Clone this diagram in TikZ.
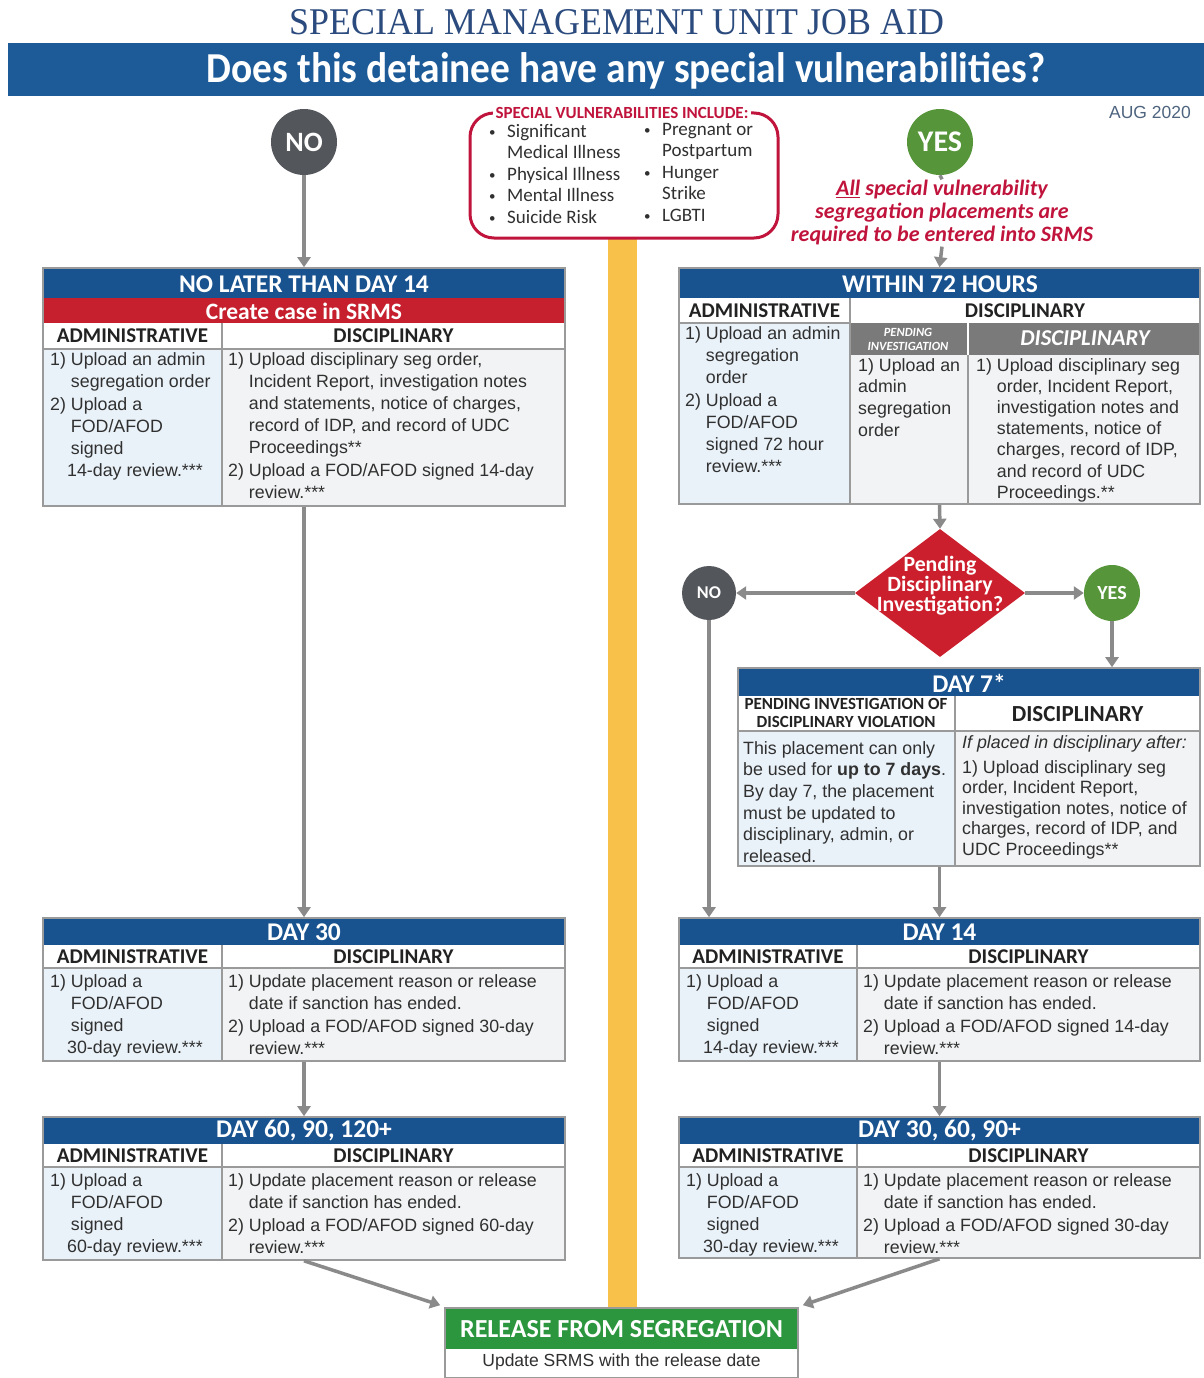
\documentclass[tikz,border=0pt]{standalone}
\usepackage{fontspec}
\setmainfont{Liberation Sans}
\newfontfamily\calfont{Carlito}
\newfontfamily\timesfont{Liberation Serif}
\usetikzlibrary{shapes.geometric,arrows.meta,fit,calc}

\definecolor{bannerblue}{HTML}{1D5B98}
\definecolor{hblue}{HTML}{18528F}
\definecolor{redband}{HTML}{C61F2E}
\definecolor{dred}{HTML}{CC1F2D}
\definecolor{crimson}{HTML}{C0143C}
\definecolor{grayband}{HTML}{7A7A7A}
\definecolor{nogray}{HTML}{53565A}
\definecolor{yesgreen}{HTML}{56953A}
\definecolor{relgreen}{HTML}{2C963F}
\definecolor{yellowbar}{HTML}{F8C24A}
\definecolor{admbg}{HTML}{EAF2F9}
\definecolor{discbg}{HTML}{F2F3F4}
\definecolor{boxgray}{HTML}{9A9A9A}
\definecolor{arrgray}{HTML}{8A8A8A}
\definecolor{txt}{HTML}{303030}
\definecolor{hdrtxt}{HTML}{222222}
\definecolor{titleblue}{HTML}{2B4B7E}
\definecolor{augblue}{HTML}{4E647E}

\newcommand\itm[1]{\makebox[1.167em][l]{#1}}
\newcommand\ind{\hspace*{1.167em}}
\newcommand\bul{\makebox[18pt][l]{\raisebox{1pt}{\fontsize{13}{13}\selectfont\textbullet}}}

\tikzset{
 frame/.style={draw=boxgray, line width=1.6pt, inner sep=0pt},
 gridl/.style={draw=boxgray, line width=1.2pt},
 htitle/.style={text=white, font=\calfont\bfseries\fontsize{25.5}{25.5}\selectfont, inner sep=0pt},
 colh/.style={text=hdrtxt, font=\calfont\bfseries\fontsize{21}{21}\selectfont, inner sep=0pt},
 body/.style={anchor=north west, inner sep=0pt, align=left, text=txt, font=\fontsize{17.8}{22}\selectfont},
 arr/.style={draw=arrgray, line width=3.5pt, -{Triangle[length=10pt,width=13pt]}},
 circ/.style={circle, inner sep=0pt, text=white, font=\calfont\bfseries},
}

\newcommand\daybox[8]{%
  \fill[admbg] (#2,{#3+50}) rectangle (#6,#5);
  \fill[discbg] (#6,{#3+50}) rectangle (#4,#5);
  \fill[hblue] (#2,#3) rectangle (#4,{#3+27});
  \draw[gridl] (#2,{#3+50}) -- (#4,{#3+50}) (#6,{#3+27}) -- (#6,#5);
  \node[frame, fit={(#2,#3) (#4,#5)}] (#1) {};
  \node[htitle] (#1t) at ({(#2+#4)/2},{#3+14}) {#7};
  \node[colh] (#1a) at ({(#2+#6)/2},{#3+39}) {ADMINISTRATIVE};
  \node[colh] (#1d) at ({(#6+#4)/2},{#3+39}) {DISCIPLINARY};
  \node[body] (#1at) at ({#2+7},{#3+56}) {\itm{1)}Upload a\\\ind FOD/AFOD\\\ind signed\\\hspace*{17pt}#8-day review.***};
  \node[body] (#1dt) at ({#6+6},{#3+56}) {\itm{1)}Update placement reason or release\\\ind date if sanction has ended.\\[1pt]\itm{2)}Upload a FOD/AFOD signed #8-day\\\ind review.***};
}

\begin{document}
\begin{tikzpicture}[x=1pt,y=-1pt]
\useasboundingbox[fill=white] (0,0) rectangle (1204,1378);

% title and banner
\node[text=titleblue, inner sep=0pt] (title) at (617,22) {\resizebox{654pt}{25pt}{\timesfont SPECIAL MANAGEMENT UNIT JOB AID}};
\node[fill=bannerblue, minimum width=1196pt, minimum height=53pt, anchor=north west, inner sep=0pt] (banner) at (8,43) {};
\node[text=white, inner sep=0pt] (question) at (626,71) {\resizebox{838pt}{30pt}{\calfont\bfseries Does this detainee have any special vulnerabilities?}};
\node[text=augblue, font=\fontsize{17.5}{18}\selectfont, inner sep=0pt] (aug) at (1150,112) {AUG 2020};

% yellow bar
\fill[yellowbar] (608,238) rectangle (637,1310);

% special vulnerabilities box
\draw[crimson, line width=3pt, rounded corners=24pt] (470,113) rectangle (778,238);
\node[fill=white, inner xsep=3pt, inner ysep=1pt, text=crimson, font=\calfont\bfseries\fontsize{17}{17}\selectfont] (svtitle) at (622,113) {SPECIAL VULNERABILITIES INCLUDE:};
\node[anchor=north west, inner sep=0pt, align=left, text=txt, font=\calfont\fontsize{19}{21.5}\selectfont] (svleft) at (489,124) {\bul Significant\\\hspace*{18pt}Medical Illness\\\bul Physical Illness\\\bul Mental Illness\\\bul Suicide Risk};
\node[anchor=north west, inner sep=0pt, align=left, text=txt, font=\calfont\fontsize{19}{21.5}\selectfont] (svright) at (644,123) {\bul Pregnant or\\\hspace*{18pt}Postpartum\\\bul Hunger\\\hspace*{18pt}Strike\\\bul LGBTI};

% top circles
\node[circ, fill=nogray, minimum size=66pt, font=\calfont\bfseries\fontsize{28}{28}\selectfont] (no1) at (304,142) {NO};
\node[circ, fill=yesgreen, minimum size=66pt, font=\calfont\bfseries\fontsize{30}{30}\selectfont] (yes1) at (940,142) {YES};

% ---------- left top box ----------
\fill[admbg] (43,349) rectangle (222,506);
\fill[discbg] (222,349) rectangle (565,506);
\fill[hblue] (43,268) rectangle (565,298);
\fill[redband] (43,298) rectangle (565,323);
\draw[gridl] (43,349) -- (565,349) (222,323) -- (222,506);
\node[frame, fit={(43,268) (565,506)}] (left14) {};
\node[htitle] (left14t) at (304,284) {NO LATER THAN DAY 14};
\node[text=white, inner sep=0pt, font=\calfont\bfseries\fontsize{23.5}{23.5}\selectfont] (left14r) at (304,311) {Create case in SRMS};
\node[colh] (left14a) at (132.5,336) {ADMINISTRATIVE};
\node[colh] (left14d) at (393.5,336) {DISCIPLINARY};
\node[body] (left14at) at (50,352) {\itm{1)}Upload an admin\\\ind segregation order\\[1pt]\itm{2)}Upload a\\\ind FOD/AFOD\\\ind signed\\\hspace*{17pt}14-day review.***};
\node[body] (left14dt) at (228,352) {\itm{1)}Upload disciplinary seg order,\\\ind Incident Report, investigation notes\\\ind and statements, notice of charges,\\\ind record of IDP, and record of UDC\\\ind Proceedings**\\[1pt]\itm{2)}Upload a FOD/AFOD signed 14-day\\\ind review.***};

% ---------- right top box ----------
\fill[admbg] (679,323) rectangle (850,504);
\fill[discbg] (850,355) rectangle (1200,504);
\fill[grayband] (850,323) rectangle (1200,355);
\fill[hblue] (679,268) rectangle (1200,298);
\draw[gridl] (679,323) -- (850,323) (850,298) -- (850,504) (968,355) -- (968,504);
\draw[white, line width=1.2pt] (968,323) -- (968,355);
\node[frame, fit={(679,268) (1200,504)}] (right72) {};
\node[htitle] (right72t) at (940,284) {WITHIN 72 HOURS};
\node[colh] (right72a) at (764.5,311) {ADMINISTRATIVE};
\node[colh] (right72d) at (1025,311) {DISCIPLINARY};
\node[text=white, inner sep=0pt, align=center, font=\calfont\bfseries\itshape\fontsize{12.5}{14}\selectfont] (pendh) at (908,339) {PENDING\\INVESTIGATION};
\node[text=white, inner sep=0pt, font=\calfont\bfseries\itshape\fontsize{22.7}{22.7}\selectfont] (disch) at (1085,338) {DISCIPLINARY};
\node[body] (right72at) at (685,326) {\itm{1)}Upload an admin\\\ind segregation\\\ind order\\[1pt]\itm{2)}Upload a\\\ind FOD/AFOD\\\ind signed 72 hour\\\ind review.***};
\node[body, font=\fontsize{17.8}{21.7}\selectfont] (pendt) at (858,358) {1) Upload an\\admin\\segregation\\order};
\node[body, font=\fontsize{17.8}{21.2}\selectfont] (disct) at (976,358) {\itm{1)}Upload disciplinary seg\\\ind order, Incident Report,\\\ind investigation notes and\\\ind statements, notice of\\\ind charges, record of IDP,\\\ind and record of UDC\\\ind Proceedings.**};

% ---------- diamond and small circles ----------
\node[diamond, fill=dred, minimum width=170pt, minimum height=128pt, inner sep=0pt] (dia) at (940,593) {};
\node[text=white, align=center, inner sep=0pt, font=\calfont\bfseries\fontsize{21.8}{18.5}\selectfont] (diat) at (940,586) {Pending\\Disciplinary\\Investigation?};
\node[circ, fill=nogray, minimum size=54pt, font=\calfont\bfseries\fontsize{18}{18}\selectfont] (no2) at (709,593) {NO};
\node[circ, fill=yesgreen, minimum size=56pt, font=\calfont\bfseries\fontsize{20}{20}\selectfont] (yes2) at (1112,593) {YES};

% ---------- Day 7 box ----------
\fill[admbg] (738,731) rectangle (955,866);
\fill[discbg] (955,731) rectangle (1200,866);
\fill[hblue] (738,668) rectangle (1200,696);
\draw[gridl] (738,731) -- (1200,731) (955,696) -- (955,866);
\node[frame, fit={(738,668) (1200,866)}] (day7) {};
\node[htitle] (day7t) at (969,683) {DAY 7*};
\node[colh, align=center, font=\calfont\bfseries\fontsize{17}{18}\selectfont] (day7a) at (846,713) {PENDING INVESTIGATION OF\\DISCIPLINARY VIOLATION};
\node[colh, font=\calfont\bfseries\fontsize{23}{23}\selectfont] (day7d) at (1077.5,714) {DISCIPLINARY};
\node[body, font=\fontsize{17.8}{21.7}\selectfont] (day7at) at (743,741) {This placement can only\\be used for \textbf{up to 7 days}.\\By day 7, the placement\\must be updated to\\disciplinary, admin, or\\released.};
\node[body] (day7it) at (962,735) {\textit{If placed in disciplinary after:}};
\node[body, font=\fontsize{17.8}{20.5}\selectfont] (day7dt) at (962,760) {1) Upload disciplinary seg\\order, Incident Report,\\investigation notes, notice of\\charges, record of IDP, and\\UDC Proceedings**};

% ---------- day boxes ----------
\daybox{left30}{43}{918}{565}{1061}{222}{DAY 30}{30}
\daybox{left60}{43}{1117}{565}{1260}{222}{DAY 60, 90, 120+}{60}
\daybox{right14}{679}{918}{1200}{1061}{857}{DAY 14}{14}
\daybox{right30}{679}{1117}{1200}{1258}{857}{DAY 30, 60, 90+}{30}

% ---------- release box ----------
\fill[relgreen] (445,1308) rectangle (798,1349);
\fill[white] (445,1349) rectangle (798,1378);
\node[frame, fit={(445,1308) (798,1378)}] (rel) {};
\node[text=white, inner sep=0pt, font=\calfont\bfseries\fontsize{26}{26}\selectfont] (relt) at (621.5,1329) {RELEASE FROM SEGREGATION};
\node[text=txt, inner sep=0pt, font=\fontsize{17.5}{18}\selectfont] (relb) at (621.5,1362) {Update SRMS with the release date};

% red note
\node[fill=white, inner sep=1pt, align=center, text=crimson, font=\calfont\bfseries\itshape\fontsize{22}{23}\selectfont] (note) at (942,213) {\underline{All} special vulnerability\\segregation placements are\\required to be entered into SRMS};

% ---------- connectors ----------
\draw[arr] (no1.south) -- (left14.north);
\draw[draw=arrgray, line width=3.5pt] (yes1.south) -- (note.north);
\draw[arr] (note.south) -- (right72.north);
\draw[arr] (right72.south) -- (dia.north);
\draw[arr] (dia.west) -- (no2.east);
\draw[arr] (dia.east) -- (yes2.west);
\draw[arr] (yes2.south) -- (yes2.south |- day7.north);
\draw[arr] (no2.south) -- (no2.south |- right14.north);
\draw[arr] (right14.north |- day7.south) -- (right14.north);
\draw[arr] (left14.south) -- (left30.north);
\draw[arr] (left30.south) -- (left60.north);
\draw[arr] (right14.south) -- (right30.north);
\draw[arr] (left60.south) -- ([xshift=-4pt,yshift=2pt]rel.north west);
\draw[arr] (right30.south) -- ([xshift=4pt,yshift=2pt]rel.north east);
\end{tikzpicture}
\end{document}
